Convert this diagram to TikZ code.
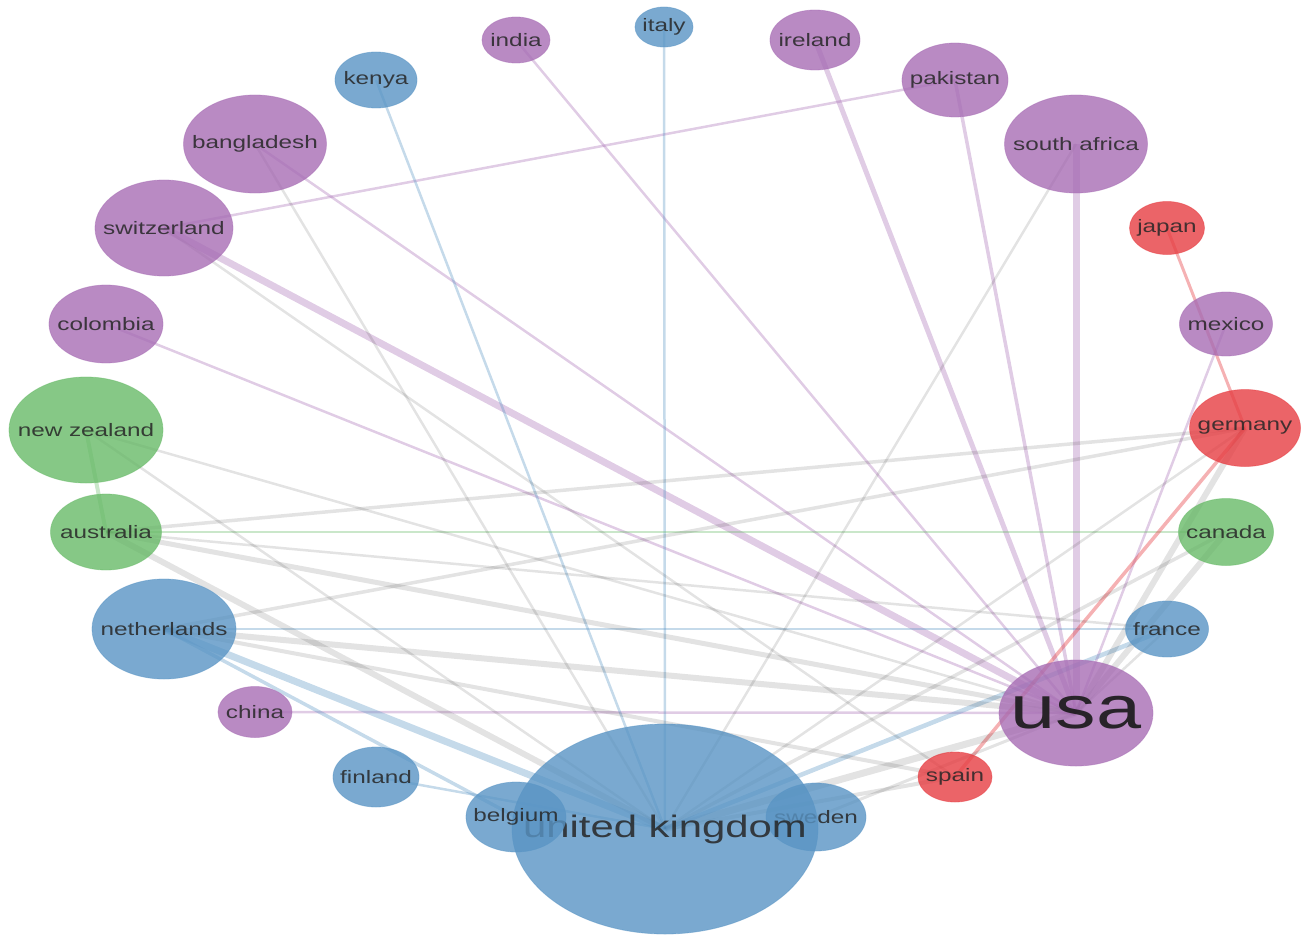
\documentclass[tikz,border=0pt]{standalone}
\usepackage{fontspec}
\usetikzlibrary{shapes.geometric}
\newfontfamily\lblfont{Liberation Sans}[FakeStretch=1.35]
\definecolor{cpur}{RGB}{167,109,180}
\definecolor{cblu}{RGB}{89,148,196}
\definecolor{cgrn}{RGB}{104,186,104}
\definecolor{cred}{RGB}{230,61,66}
\pgfdeclarelayer{bg}
\pgfsetlayers{bg,main}
\tikzset{
  nd/.style={ellipse, inner sep=0pt, line width=0.8pt, fill opacity=0.8, draw opacity=0.5},
  lbl/.style={font=\lblfont\fontsize{18}{18}\selectfont, text=black!85, text opacity=0.85, inner sep=0pt},
  biglbl/.style={font=\lblfont\fontsize{31}{31}\selectfont, text=black!85, text opacity=0.85, inner sep=0pt},
  hugelbl/.style={font=\lblfont\fontsize{60}{60}\selectfont, text=black!90, text opacity=0.9, inner sep=0pt},
  epur/.style={draw=cpur, draw opacity=0.35},
  eblu/.style={draw=cblu, draw opacity=0.35},
  egrn/.style={draw=cgrn, draw opacity=0.35},
  ered/.style={draw=cred, draw opacity=0.4},
  egry/.style={draw=black, draw opacity=0.11},
}
\newcommand\mynode[7][lbl]{\node[nd, fill=#6, draw=#6, minimum width=#4pt, minimum height=#5pt,
  label={[#1]center:#7}] (#2) at (#3) {};}
\newcommand\myedge[4]{\draw[#3, line width=#4pt] (#1.center) -- (#2.center);}
\begin{document}
\begin{tikzpicture}[x=1pt,y=-1pt]
\useasboundingbox (0,0) rectangle (1305,936);
% nodes
\mynode{italy}{664,27}{58}{40}{cblu}{italy}
\mynode{india}{516,40}{68}{46}{cpur}{india}
\mynode{ireland}{815,40}{90}{60}{cpur}{ireland}
\mynode{kenya}{376,80}{82}{56}{cblu}{kenya}
\mynode{pakistan}{955,80}{106}{74}{cpur}{pakistan}
\mynode{bangladesh}{255,144}{143}{98}{cpur}{bangladesh}
\mynode{southafrica}{1076,144}{143}{98}{cpur}{south africa}
\mynode{switzerland}{164,228}{138}{96}{cpur}{switzerland}
\mynode{japan}{1167,228}{75}{53}{cred}{japan}
\mynode{colombia}{106,324}{114}{78}{cpur}{colombia}
\mynode{mexico}{1226,324}{93}{64}{cpur}{mexico}
\mynode{newzealand}{86,430}{154}{106}{cgrn}{new zealand}
\mynode{germany}{1245,428}{111}{77}{cred}{germany}
\mynode{australia}{106,532}{111}{76}{cgrn}{australia}
\mynode{canada}{1226,532}{95}{67}{cgrn}{canada}
\mynode{netherlands}{164,629}{144}{100}{cblu}{netherlands}
\mynode{france}{1167,629}{83}{56}{cblu}{france}
\mynode{china}{255,712}{74}{51}{cpur}{china}
\mynode[hugelbl]{usa}{1076,713}{154}{106}{cpur}{usa}
\mynode{finland}{376,777}{86}{60}{cblu}{finland}
\mynode{spain}{955,777}{74}{50}{cred}{spain}
\mynode{sweden}{816,817}{100}{68}{cblu}{sweden}
\mynode[biglbl]{uk}{665,829}{306}{210}{cblu}{united kingdom}
\mynode{belgium}{516,817}{100}{70}{cblu}{belgium}
% edges
\begin{pgfonlayer}{bg}
\myedge{india}{usa}{epur}{2.5}
\myedge{ireland}{usa}{epur}{5}
\myedge{pakistan}{switzerland}{epur}{2.5}
\myedge{pakistan}{usa}{epur}{3.5}
\myedge{southafrica}{usa}{epur}{7}
\myedge{bangladesh}{usa}{epur}{2.5}
\myedge{switzerland}{usa}{epur}{7}
\myedge{colombia}{usa}{epur}{2.5}
\myedge{mexico}{usa}{epur}{2.5}
\myedge{china}{usa}{epur}{2.5}
\myedge{italy}{uk}{eblu}{2.5}
\myedge{kenya}{uk}{eblu}{2.5}
\myedge{netherlands}{france}{eblu}{2}
\myedge{netherlands}{uk}{eblu}{7}
\myedge{netherlands}{belgium}{eblu}{3.5}
\myedge{finland}{uk}{eblu}{2.5}
\myedge{france}{uk}{eblu}{4.5}
\myedge{newzealand}{australia}{egrn}{4}
\myedge{australia}{canada}{egrn}{2.5}
\myedge{japan}{germany}{ered}{3}
\myedge{germany}{spain}{ered}{3.5}
\myedge{bangladesh}{uk}{egry}{2.5}
\myedge{switzerland}{spain}{egry}{2.5}
\myedge{newzealand}{usa}{egry}{2.5}
\myedge{newzealand}{uk}{egry}{2.5}
\myedge{australia}{germany}{egry}{3.5}
\myedge{australia}{france}{egry}{2.5}
\myedge{australia}{usa}{egry}{5}
\myedge{australia}{uk}{egry}{6}
\myedge{netherlands}{germany}{egry}{3.5}
\myedge{netherlands}{usa}{egry}{6}
\myedge{netherlands}{spain}{egry}{4}
\myedge{southafrica}{uk}{egry}{2.5}
\myedge{germany}{uk}{egry}{2.5}
\myedge{germany}{usa}{egry}{6}
\myedge{canada}{usa}{egry}{6}
\myedge{canada}{uk}{egry}{3.5}
\myedge{usa}{uk}{egry}{7}
\myedge{spain}{uk}{egry}{4}
\myedge{france}{usa}{egry}{2.5}
\myedge{sweden}{usa}{egry}{3}
\end{pgfonlayer}
\end{tikzpicture}
\end{document}
